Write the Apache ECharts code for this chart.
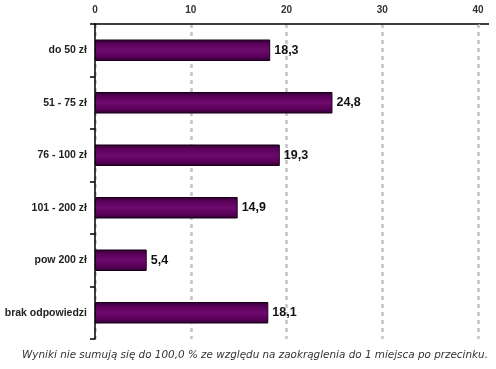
<!DOCTYPE html>
<html><head><meta charset="utf-8">
<script src="https://cdn.jsdelivr.net/npm/echarts@6/dist/echarts.min.js"></script>
<style>html,body{margin:0;padding:0;background:#fff}#c{width:496px;height:369px}</style>
</head><body><div id="c"></div>
<script>
const categories = ['do 50 zł', '51 - 75 zł', '76 - 100 zł', '101 - 200 zł', 'pow 200 zł', 'brak odpowiedzi'];
const values = [18.3, 24.8, 19.3, 14.9, 5.4, 18.1];
const xTicks = [0, 10, 20, 30, 40];
const footnote = 'Wyniki nie sumują się do 100,0 % ze względu na zaokrąglenia do 1 miejsca po przecinku.';

const chart = echarts.init(document.getElementById('c'));
chart.setOption({
  animation: false,
  grid: { left: 95, right: 18, top: 24, bottom: 30, containLabel: false },
  xAxis: {
    type: 'value', position: 'top', min: xTicks[0], max: xTicks[xTicks.length - 1], interval: 10,
    axisLine: { show: true, lineStyle: { color: '#000', width: 1.5 } },
    axisTick: { show: false },
    axisLabel: { color: '#333', fontFamily: 'Liberation Sans, Arial', fontWeight: 'bold', fontSize: 10, margin: 9 },
    splitLine: { show: true, lineStyle: { color: '#c4c4c4', type: [4, 4], width: 2.5 } }
  },
  yAxis: {
    type: 'category', data: categories, inverse: true,
    axisLine: { show: true, lineStyle: { color: '#000', width: 1.5 } },
    axisTick: { show: true, length: 5, lineStyle: { color: '#000', width: 1.5 } },
    axisLabel: { color: '#222', fontFamily: 'Liberation Sans, Arial', fontWeight: 'bold', fontSize: 10.5, margin: 8 }
  },
  series: [{
    type: 'bar', data: values, barWidth: '41%',
    itemStyle: {
      color: new echarts.graphic.LinearGradient(0, 0, 0, 1, [
        { offset: 0, color: '#2a002a' },
        { offset: 0.2, color: '#5a005a' },
        { offset: 0.5, color: '#6e0a6e' },
        { offset: 0.8, color: '#5a005a' },
        { offset: 1, color: '#2a002a' }
      ]),
      borderColor: '#1a001a', borderWidth: 1
    },
    label: {
      show: true, position: 'right', distance: 4,
      formatter: p => p.value.toFixed(1).replace('.', ','),
      color: '#111', fontFamily: 'Liberation Sans, Arial', fontWeight: 'bold', fontSize: 12.5
    }
  }],
  graphic: [
    { type: 'line', shape: { x1: 478, y1: 24, x2: 489, y2: 24 }, style: { stroke: '#000', lineWidth: 1.5 } },
    { type: 'text', x: 255, y: 355,
      style: { text: footnote, fill: '#333', align: 'center', verticalAlign: 'middle', font: 'italic 10.4px "DejaVu Sans", Verdana, sans-serif' } }
  ]
});
</script></body></html>
